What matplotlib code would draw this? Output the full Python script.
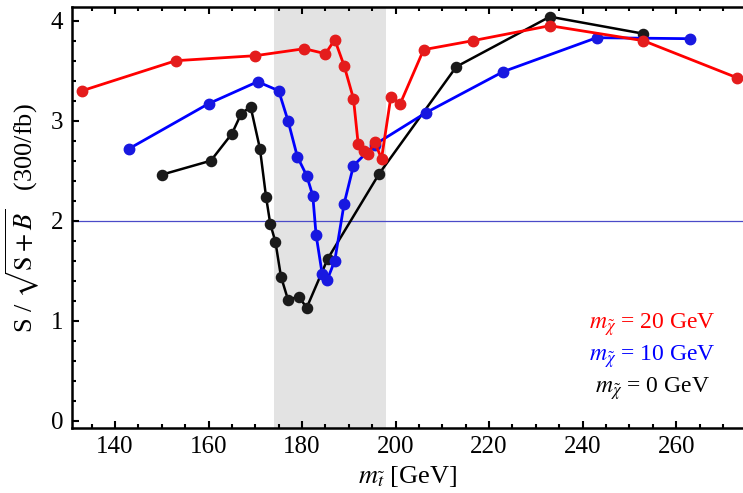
import matplotlib
matplotlib.use("Agg")
import matplotlib.pyplot as plt
from matplotlib.ticker import MultipleLocator

plt.rcParams['font.family'] = ['Liberation Serif', 'DejaVu Serif']
plt.rcParams['mathtext.fontset'] = 'stix'

# 数据
red_x = [133, 153, 170, 180.5, 185, 187, 189, 191, 192, 193.3, 194.2, 195.5, 197, 199, 201, 206, 216.5, 233, 253, 273]
red_y = [3.30, 3.60, 3.65, 3.72, 3.67, 3.81, 3.55, 3.22, 2.77, 2.70, 2.67, 2.79, 2.62, 3.24, 3.17, 3.71, 3.80, 3.95, 3.80, 3.43]

blue_x = [143, 160, 170.5, 175, 177, 179, 181, 182.3, 183, 184.3, 185.4, 187, 189, 191, 195.5, 206.5, 223, 243, 263]
blue_y = [2.72, 3.17, 3.39, 3.30, 3.00, 2.64, 2.45, 2.25, 1.86, 1.47, 1.41, 1.60, 2.17, 2.55, 2.76, 3.08, 3.49, 3.83, 3.82]

black_x = [150, 160.5, 165, 167, 169, 171, 172.3, 173.2, 174.3, 175.5, 177, 179.3, 181, 185.5, 196.5, 213, 233, 253]
black_y = [2.46, 2.60, 2.87, 3.07, 3.14, 2.72, 2.24, 1.97, 1.79, 1.44, 1.21, 1.24, 1.13, 1.62, 2.47, 3.54, 4.04, 3.87]

shade_range = (174, 198)
threshold = 2.0
labels = [r'$m_{\tilde{\chi}}$ = 20 GeV', r'$m_{\tilde{\chi}}$ = 10 GeV', r'$m_{\tilde{\chi}}$ = 0 GeV']

fig = plt.figure(figsize=(7.43, 4.93), dpi=100)
ax = fig.add_axes([71.5 / 743, 1 - 428 / 493, 1 - 71.5 / 743, (428 - 7.3) / 493])

ax.axvspan(*shade_range, color='#e3e3e3', lw=0, zorder=0)
ax.axhline(threshold, color='#4a4ac8', lw=0.9, zorder=1)

ax.plot(black_x, black_y, '-o', color='#000000', mfc='#1a1a1a', mec='#1a1a1a', lw=1.8, ms=7.3, zorder=2)
ax.plot(blue_x, blue_y, '-o', color='#0000ff', mfc='#1818e0', mec='#1818e0', lw=2.0, ms=7.5, zorder=3)
ax.plot(red_x, red_y, '-o', color='#ff0000', mfc='#e41c1c', mec='#e41c1c', lw=2.0, ms=7.5, zorder=4)

ax.set_xlim(130.7, 274.3)
ax.set_ylim(-0.073, 4.134)

ax.xaxis.set_major_locator(MultipleLocator(20))
ax.xaxis.set_minor_locator(MultipleLocator(5))
ax.yaxis.set_major_locator(MultipleLocator(1))
ax.yaxis.set_minor_locator(MultipleLocator(0.2))
ax.tick_params(which='both', direction='in', top=True, right=False, width=1.5, labelsize=18)
ax.tick_params(which='major', length=5, pad=6)
ax.tick_params(which='minor', length=3)

for s in ['left', 'bottom', 'top']:
    ax.spines[s].set_linewidth(1.8)
ax.spines['right'].set_visible(False)

ax.set_xlabel(r'$m_{\tilde{t}}$ [GeV]', fontsize=19, labelpad=4)
ax.set_ylabel(r'S / $\sqrt{\mathrm{S}+B}$   (300/fb)', fontsize=19, labelpad=6)

# 图例文字
colors = ['#ff0000', '#0000ff', '#000000']
ys = [0.96, 0.64, 0.32]
for txt, c, y in zip(labels, colors, ys):
    ax.text(254.9, y, txt, color=c, fontsize=17, ha='center', va='center')

fig.savefig('out.png', dpi=100)
